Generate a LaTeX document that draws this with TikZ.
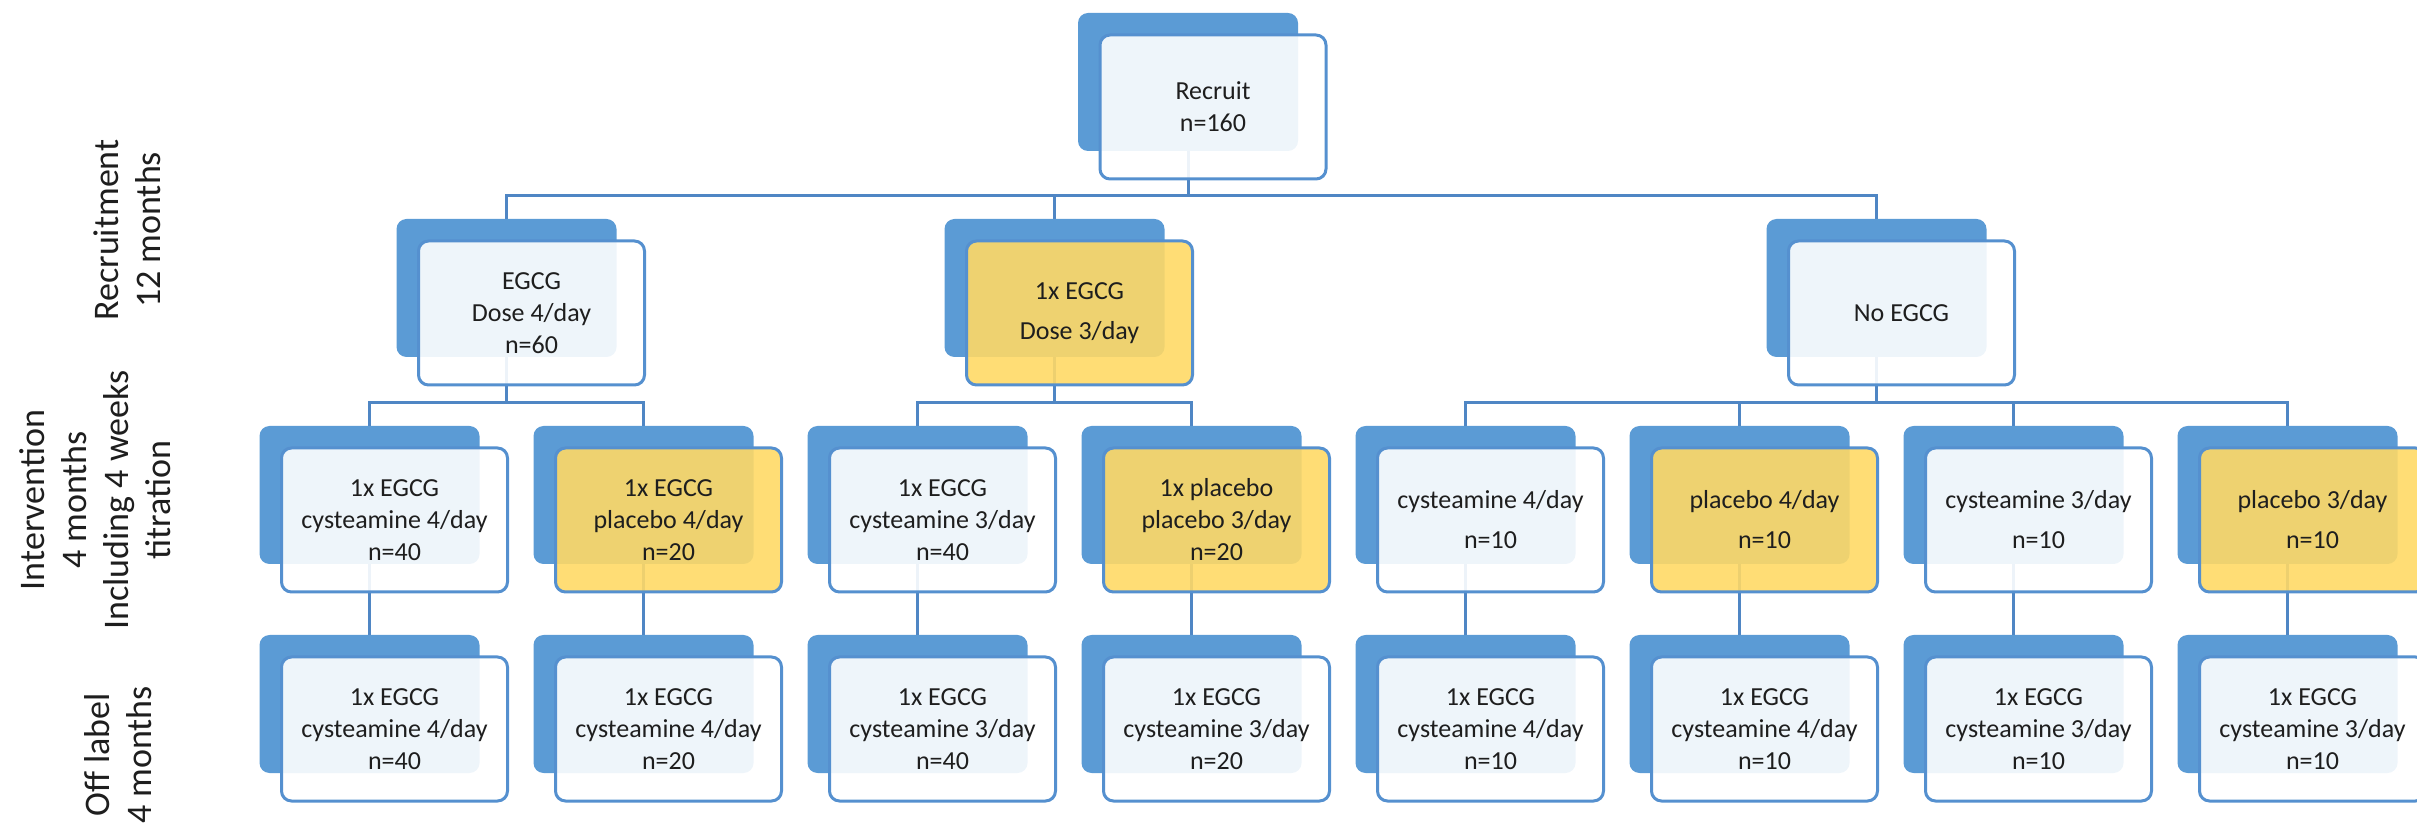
\documentclass[tikz,border=0pt]{standalone}
\usepackage{fontspec}
\setmainfont{Carlito}
\usetikzlibrary{backgrounds}
\definecolor{boxblue}{HTML}{5B9BD5}
\definecolor{edgeblue}{HTML}{5590CF}
\definecolor{linkblue}{HTML}{4F86C4}
\definecolor{gold}{HTML}{FFD966}
\definecolor{ink}{HTML}{1E1E1E}
\tikzset{
  backbox/.style={fill=boxblue, rounded corners=5pt, minimum width=110pt,
    minimum height=69pt, inner sep=0pt},
  frontbox/.style={draw=edgeblue, line width=1.5pt, fill=white, fill opacity=0.9,
    text opacity=1, rounded corners=5pt, minimum width=113pt, minimum height=72pt,
    inner sep=0pt, align=center, text=ink, font=\fontsize{13}{16}\selectfont},
  goldbox/.style={frontbox, fill=gold},
  wide/.style={font=\fontsize{13}{20}\selectfont},
  link/.style={draw=linkblue, line width=1.5pt},
  phase/.style={rotate=90, align=center, text=ink, font=\fontsize{18}{21}\selectfont},
}
% a blue card with a lighter card laid over it, offset down and right
\newcommand\twin[5]{%
  \node[backbox] (#1-b) at (#2,#3) {};
  \node[#4] (#1) at ([shift={(25,25)}]#1-b.center) {#5};
}
\begin{document}
\begin{tikzpicture}[x=0.5pt,y=-0.5pt]
\useasboundingbox (0,0) rectangle (2417,828);
\clip (0,0) rectangle (2417,828);

% phase labels
\node[phase] (ph1) at (127,230) {Recruitment\\12 months};
\node[phase] (ph2) at (95,500) {Intervention\\4 months\\Including 4 weeks\\titration};
\node[phase] (ph3) at (118,755) {Off label\\4 months};

% level 1
\twin{rec}{1188}{82}{frontbox}{Recruit\\n=160}

% level 2
\twin{egcg}{506.5}{288}{frontbox}{EGCG\\Dose 4/day\\n=60}
\twin{half}{1054.5}{288}{goldbox,wide}{1x EGCG\\Dose 3/day}
\twin{none}{1876.5}{288}{frontbox}{No EGCG}

% level 3: intervention
\twin{ia}{369.5}{495}{frontbox}{1x EGCG\\cysteamine 4/day\\n=40}
\twin{ib}{643.5}{495}{goldbox}{1x EGCG\\placebo 4/day\\n=20}
\twin{ic}{917.5}{495}{frontbox}{1x EGCG\\cysteamine 3/day\\n=40}
\twin{id}{1191.5}{495}{goldbox}{1x placebo\\placebo 3/day\\n=20}
\twin{ie}{1465.5}{495}{frontbox,wide}{cysteamine 4/day\\n=10}
\twin{if}{1739.5}{495}{goldbox,wide}{placebo 4/day\\n=10}
\twin{ig}{2013.5}{495}{frontbox,wide}{cysteamine 3/day\\n=10}
\twin{ih}{2287.5}{495}{goldbox,wide}{placebo 3/day\\n=10}

% level 4: off label
\twin{oa}{369.5}{704}{frontbox}{1x EGCG\\cysteamine 4/day\\n=40}
\twin{ob}{643.5}{704}{frontbox}{1x EGCG\\cysteamine 4/day\\n=20}
\twin{oc}{917.5}{704}{frontbox}{1x EGCG\\cysteamine 3/day\\n=40}
\twin{od}{1191.5}{704}{frontbox}{1x EGCG\\cysteamine 3/day\\n=20}
\twin{oe}{1465.5}{704}{frontbox}{1x EGCG\\cysteamine 4/day\\n=10}
\twin{of}{1739.5}{704}{frontbox}{1x EGCG\\cysteamine 4/day\\n=10}
\twin{og}{2013.5}{704}{frontbox}{1x EGCG\\cysteamine 3/day\\n=10}
\twin{oh}{2287.5}{704}{frontbox}{1x EGCG\\cysteamine 3/day\\n=10}

\coordinate (bus1) at (0,196);
\coordinate (bus2) at (0,403);

% connectors run underneath the cards
\begin{pgfonlayer}{background}
  \foreach \c in {egcg,half,none}
    \draw[link] (rec-b.center) -- (rec-b.center |- bus1) -| (\c-b.center);
  \foreach \c in {ia,ib}
    \draw[link] (egcg-b.center) -- (egcg-b.center |- bus2) -| (\c-b.center);
  \foreach \c in {ic,id}
    \draw[link] (half-b.center) -- (half-b.center |- bus2) -| (\c-b.center);
  \foreach \c in {ie,if,ig,ih}
    \draw[link] (none-b.center) -- (none-b.center |- bus2) -| (\c-b.center);
  \foreach \a/\b in {ia/oa,ib/ob,ic/oc,id/od,ie/oe,if/of,ig/og,ih/oh}
    \draw[link] (\a-b.center) -- (\b-b.center);
\end{pgfonlayer}
\end{tikzpicture}
\end{document}
